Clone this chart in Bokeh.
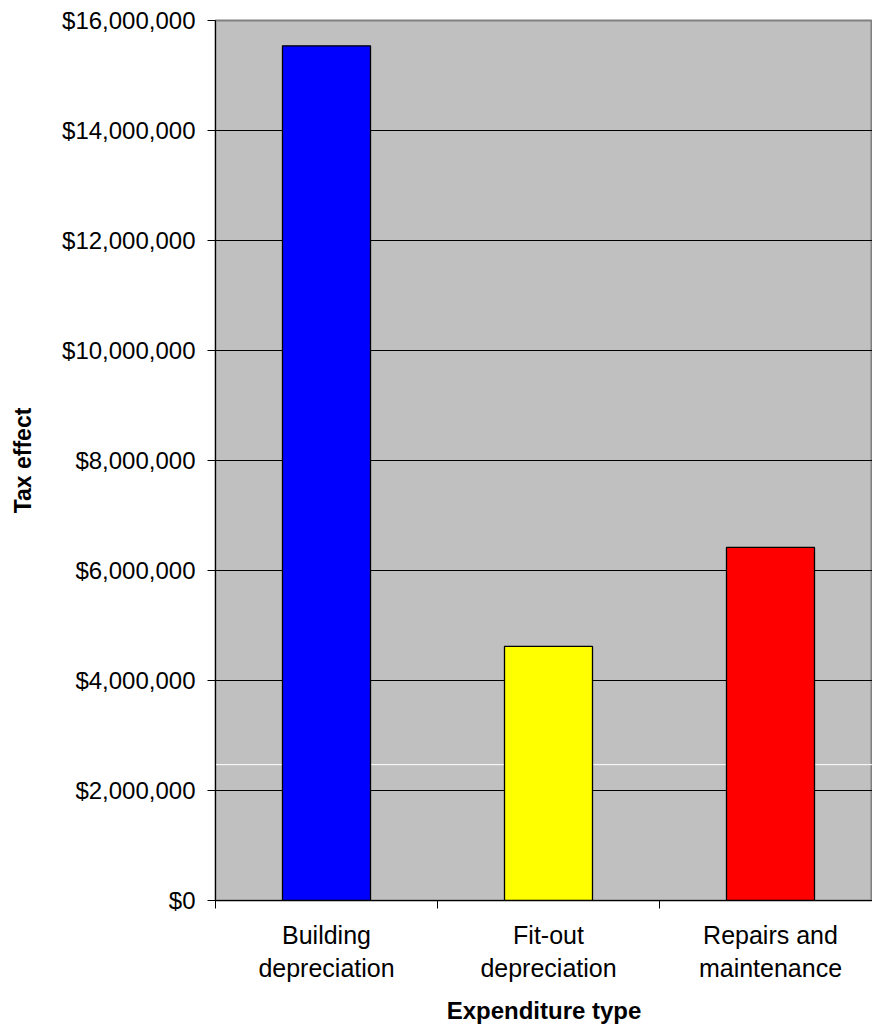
from bokeh.plotting import figure
from bokeh.models import Range1d, FixedTicker, NumeralTickFormatter, Span, ColumnDataSource
from bokeh.embed import file_html
from bokeh.resources import INLINE

# ---- data ----
categories = ["Building\ndepreciation", "Fit-out\ndepreciation", "Repairs and\nmaintenance"]
tax_effect = [15540000, 4620000, 6420000]
bar_colors = ["#0000FF", "#FFFF00", "#FF0000"]
y_ticks = [0, 2000000, 4000000, 6000000, 8000000, 10000000, 12000000, 14000000, 16000000]
white_line_value = [2470000]

FONT = "Liberation Sans"

positions = [i + 0.5 for i in range(len(categories))]
src = ColumnDataSource(dict(x=positions, top=tax_effect, color=bar_colors))

p = figure(width=872, height=1029, output_backend="svg", toolbar_location=None,
           x_range=Range1d(0, 657 / 222), y_range=Range1d(0, 16000000),
           min_border_left=215, min_border_right=0, min_border_top=20,
           min_border_bottom=129)

p.background_fill_color = "#C0C0C0"
p.border_fill_color = "white"
p.outline_line_color = "#808080"
p.outline_line_width = 2

# white line behind bars
for v in white_line_value:
    p.add_layout(Span(location=v, dimension="width", line_color="white",
                      line_width=1, level="underlay"))

p.vbar(x="x", top="top", bottom=0, width=88 / 222, fill_color="color",
       line_color="black", line_width=1.3, source=src)

# x axis: labels at centres, ticks at category boundaries
p.xaxis.ticker = FixedTicker(ticks=positions, minor_ticks=[0, 1, 2, 3])
p.xaxis.major_label_overrides = {pos: c for pos, c in zip(positions, categories)}
p.xaxis.major_tick_out = 0
p.xaxis.major_tick_in = 0
p.xaxis.minor_tick_out = 8
p.xaxis.minor_tick_in = 0
p.xaxis.minor_tick_line_color = "black"
p.xaxis.axis_line_color = "black"
p.xaxis.major_label_text_font = FONT
p.xaxis.major_label_text_font_size = "25px"
p.xaxis.major_label_text_color = "black"
p.xaxis.major_label_standoff = 12
p.xaxis.axis_label = "Expenditure type"
p.xaxis.axis_label_text_font = FONT
p.xaxis.axis_label_text_font_size = "24px"
p.xaxis.axis_label_text_font_style = "bold"
p.xaxis.axis_label_text_color = "black"
p.xaxis.axis_label_standoff = 12
p.xgrid.visible = False

# y axis
p.yaxis.ticker = FixedTicker(ticks=y_ticks)
p.yaxis.formatter = NumeralTickFormatter(format="$0,0")
p.yaxis.major_tick_out = 8
p.yaxis.major_tick_in = 0
p.yaxis.minor_tick_line_color = None
p.yaxis.axis_line_color = "black"
p.yaxis.major_tick_line_color = "black"
p.yaxis.major_label_text_font = FONT
p.yaxis.major_label_text_font_size = "24px"
p.yaxis.major_label_text_color = "black"
p.yaxis.major_label_standoff = 12
p.yaxis.axis_label = "Tax effect"
p.yaxis.axis_label_text_font = FONT
p.yaxis.axis_label_text_font_size = "23px"
p.yaxis.axis_label_text_font_style = "bold"
p.yaxis.axis_label_text_color = "black"
p.yaxis.axis_label_standoff = 23
p.ygrid.grid_line_color = "black"
p.ygrid.grid_line_width = 1

open("out.html", "w").write(file_html(p, INLINE))
